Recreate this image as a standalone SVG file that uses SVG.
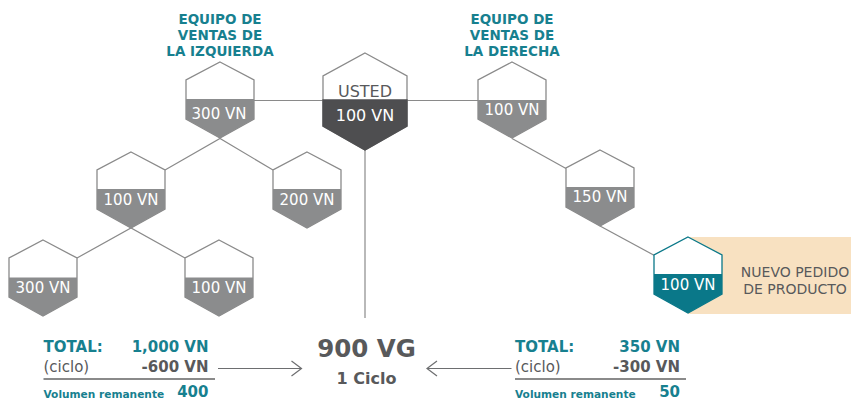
<svg xmlns="http://www.w3.org/2000/svg" width="851" height="402" viewBox="0 0 851 402">
<defs>
<style>
.hex{fill:#ffffff;stroke:#8a8a8a;stroke-width:1.3}
.fillg{fill:#8b8c8d}
.lbl{font-family:"DejaVu Sans",sans-serif;font-size:15px;fill:#ffffff;text-anchor:middle}
.ttl{font-family:"DejaVu Sans",sans-serif;font-weight:bold;font-size:13.5px;fill:#17808f;text-anchor:middle}
.conn{fill:none;stroke:#8a8a8a;stroke-width:1.2}
.arr{fill:none;stroke:#6d6e70;stroke-width:1.2}
.b15{font-family:"DejaVu Sans",sans-serif;font-weight:bold;font-size:15px}
.r15{font-family:"DejaVu Sans",sans-serif;font-size:15px;fill:#58595b}
.teal{fill:#17808f}
.dg{fill:#58595b}
.vr{font-family:"DejaVu Sans",sans-serif;font-weight:bold;font-size:10.6px;fill:#17808f}
</style>
</defs>
<rect x="688" y="237" width="163" height="77" fill="#f8e1c1"/>
<g id="connectors">
<line class="conn" x1="254" y1="100.5" x2="323" y2="100.5"/>
<line class="conn" x1="407" y1="100.5" x2="478" y2="100.5"/>
<line class="conn" x1="365" y1="150" x2="365" y2="318"/>
<polyline class="conn" points="165,170 220,138.5 273,170"/>
<polyline class="conn" points="77,258 131,228 185,258"/>
<line class="conn" x1="512" y1="138.5" x2="566" y2="168.5"/>
<line class="conn" x1="600" y1="226" x2="654.5" y2="255.5"/>
<g id="arrow-left">
<line class="arr" x1="218" y1="368.5" x2="301.5" y2="368.5"/>
<polyline class="arr" points="291.5,361 301.5,368.5 291.5,376"/>
</g>
<g id="arrow-right">
<line class="arr" x1="511.5" y1="368.5" x2="427" y2="368.5"/>
<polyline class="arr" points="437,361 427,368.5 437,376"/>
</g>
</g>
<g id="title-left">
<text class="ttl" x="220" y="24">EQUIPO DE</text>
<text class="ttl" x="220" y="40">VENTAS DE</text>
<text class="ttl" x="220" y="55.5">LA IZQUIERDA</text>
</g>
<g id="title-right">
<text class="ttl" x="512" y="24">EQUIPO DE</text>
<text class="ttl" x="512" y="40">VENTAS DE</text>
<text class="ttl" x="512" y="55.5">LA DERECHA</text>
</g>
<g id="node-usted">
<path class="hex" d="M365,53 L407,76 L407,126 L365,150 L323,126 L323,76 Z"/>
<path d="M323,100 L407,100 L407,126 L365,150 L323,126 Z" fill="#4e4e50" stroke="#4e4e50" stroke-width="1.3"/>
<text class="lbl" x="365" y="96.5" style="fill:#58595b;font-size:16px">USTED</text>
<text class="lbl" x="365" y="121" style="font-size:16px">100 VN</text>
</g>
<g id="node-l1">
<path class="hex" d="M220,62 L254,80 L254,119 L220,138 L186,119 L186,80 Z"/>
<path class="fillg" d="M186,99 L254,99 L254,119 L220,138 L186,119 Z"/>
<text class="lbl" x="219" y="119">300 VN</text>
</g>
<g id="node-r1">
<path class="hex" d="M512,62 L546,80 L546,119 L512,138 L478,119 L478,80 Z"/>
<path class="fillg" d="M478,100 L546,100 L546,119 L512,138 L478,119 Z"/>
<text class="lbl" x="512" y="115">100 VN</text>
</g>
<g id="node-l2a">
<path class="hex" d="M131,152 L165,170 L165,209 L131,228 L97,209 L97,170 Z"/>
<path class="fillg" d="M97,189 L165,189 L165,209 L131,228 L97,209 Z"/>
<text class="lbl" x="131" y="204.5">100 VN</text>
</g>
<g id="node-l2b">
<path class="hex" d="M307,152 L341,170 L341,209 L307,228 L273,209 L273,170 Z"/>
<path class="fillg" d="M273,189 L341,189 L341,209 L307,228 L273,209 Z"/>
<text class="lbl" x="307" y="204.5">200 VN</text>
</g>
<g id="node-r2">
<path class="hex" d="M600,150 L634,168 L634,207 L600,226 L566,207 L566,168 Z"/>
<path class="fillg" d="M566,187 L634,187 L634,207 L600,226 L566,207 Z"/>
<text class="lbl" x="600" y="201.5">150 VN</text>
</g>
<g id="node-l3a">
<path class="hex" d="M43,240 L77,258 L77,297 L43,316 L9,297 L9,258 Z"/>
<path class="fillg" d="M9,277.5 L77,277.5 L77,297 L43,316 L9,297 Z"/>
<text class="lbl" x="43" y="293">300 VN</text>
</g>
<g id="node-l3b">
<path class="hex" d="M219,240 L253,258 L253,297 L219,316 L185,297 L185,258 Z"/>
<path class="fillg" d="M185,277.5 L253,277.5 L253,297 L219,316 L185,297 Z"/>
<text class="lbl" x="219" y="293">100 VN</text>
</g>
<g id="node-new">
<path d="M688,237 L722,255 L722,294 L688,313 L654,294 L654,255 Z" fill="#ffffff" stroke="#0a7889" stroke-width="1.3"/>
<path d="M654,274 L722,274 L722,294 L688,313 L654,294 Z" fill="#0a7889"/>
<text class="lbl" x="688" y="290">100 VN</text>
<text class="r15" x="795" y="277" text-anchor="middle" style="font-size:14px">NUEVO PEDIDO</text>
<text class="r15" x="795" y="294" text-anchor="middle" style="font-size:14px">DE PRODUCTO</text>
</g>
<g id="total-left">
<text class="b15 teal" x="43.5" y="351.5">TOTAL:</text>
<text class="b15 teal" x="208.5" y="351.5" text-anchor="end">1,000 VN</text>
<text class="r15" x="43.5" y="371.5">(ciclo)</text>
<text class="b15 dg" x="208.5" y="371.5" text-anchor="end">-600 VN</text>
<line x1="43.5" y1="379" x2="215" y2="379" stroke="#8a8a8a" stroke-width="2"/>
<text class="vr" x="43.5" y="398">Volumen remanente</text>
<text class="b15 teal" x="208.5" y="397" text-anchor="end">400</text>
</g>
<g id="total-center">
<text x="366.5" y="357" text-anchor="middle" font-family="DejaVu Sans, sans-serif" font-weight="bold" font-size="24.5" fill="#58595b">900 VG</text>
<text x="366.5" y="383.5" text-anchor="middle" font-family="DejaVu Sans, sans-serif" font-weight="bold" font-size="16" fill="#58595b">1 Ciclo</text>
</g>
<g id="total-right">
<text class="b15 teal" x="515" y="351.5">TOTAL:</text>
<text class="b15 teal" x="680" y="351.5" text-anchor="end">350 VN</text>
<text class="r15" x="515" y="371.5">(ciclo)</text>
<text class="b15 dg" x="680" y="371.5" text-anchor="end">-300 VN</text>
<line x1="515" y1="379" x2="686" y2="379" stroke="#8a8a8a" stroke-width="2"/>
<text class="vr" x="515" y="398">Volumen remanente</text>
<text class="b15 teal" x="680" y="397" text-anchor="end">50</text>
</g>
</svg>
